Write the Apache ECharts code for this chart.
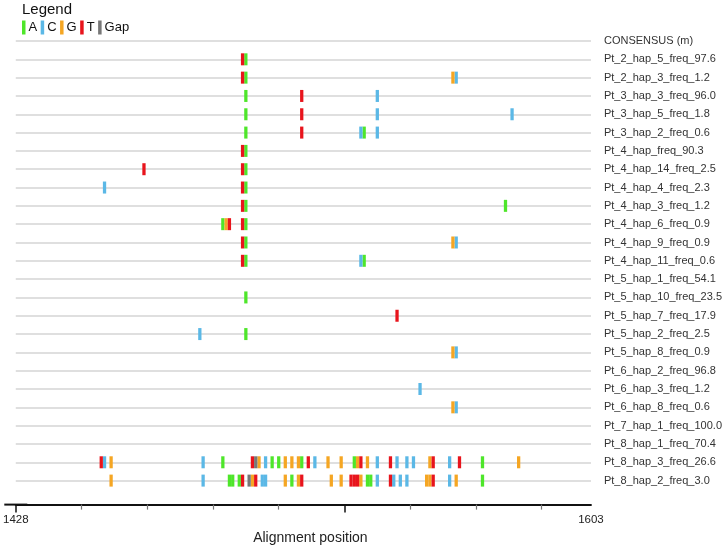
<!DOCTYPE html>
<html>
<head>
<meta charset="utf-8">
<script src="https://cdn.jsdelivr.net/npm/echarts@6/dist/echarts.min.js"></script>
<style>html,body{margin:0;padding:0;background:#fff}#c{width:725px;height:550px}</style>
</head>
<body>
<div id="c"></div>
<script>
// ---------- data ----------
const rowLabels = [
  'CONSENSUS (m)', 'Pt_2_hap_5_freq_97.6', 'Pt_2_hap_3_freq_1.2', 'Pt_3_hap_3_freq_96.0',
  'Pt_3_hap_5_freq_1.8', 'Pt_3_hap_2_freq_0.6', 'Pt_4_hap_freq_90.3', 'Pt_4_hap_14_freq_2.5',
  'Pt_4_hap_4_freq_2.3', 'Pt_4_hap_3_freq_1.2', 'Pt_4_hap_6_freq_0.9', 'Pt_4_hap_9_freq_0.9',
  'Pt_4_hap_11_freq_0.6', 'Pt_5_hap_1_freq_54.1', 'Pt_5_hap_10_freq_23.5', 'Pt_5_hap_7_freq_17.9',
  'Pt_5_hap_2_freq_2.5', 'Pt_5_hap_8_freq_0.9', 'Pt_6_hap_2_freq_96.8', 'Pt_6_hap_3_freq_1.2',
  'Pt_6_hap_8_freq_0.6', 'Pt_7_hap_1_freq_100.0', 'Pt_8_hap_1_freq_70.4', 'Pt_8_hap_3_freq_26.6',
  'Pt_8_hap_2_freq_3.0'
];
const bases = ['A', 'C', 'G', 'T', 'Gap'];
const baseColors = ['#4ee62a', '#5bb8e6', '#f5a623', '#e8141c', '#777777'];

const xMin = 1428, xMax = 1603;
const tickLabelValues = [1428, 1603];
const minorTickValues = [1448, 1468, 1488, 1508, 1548, 1568, 1588];
const majorTickValues = [1428, 1528];

// variants per haplotype: [alignment position, base]
const mConsensus = [];
const mPt2h5 = [[1497, 'T'], [1498, 'A']];
const mPt2h3 = [[1497, 'T'], [1498, 'A'], [1561, 'G'], [1562, 'C']];
const mPt3h3 = [[1498, 'A'], [1515, 'T'], [1538, 'C']];
const mPt3h5 = [[1498, 'A'], [1515, 'T'], [1538, 'C'], [1579, 'C']];
const mPt3h2 = [[1498, 'A'], [1515, 'T'], [1533, 'C'], [1534, 'A'], [1538, 'C']];
const mPt4h = [[1497, 'T'], [1498, 'A']];
const mPt4h14 = [[1467, 'T'], [1497, 'T'], [1498, 'A']];
const mPt4h4 = [[1455, 'C'], [1497, 'T'], [1498, 'A']];
const mPt4h3 = [[1497, 'T'], [1498, 'A'], [1577, 'A']];
const mPt4h6 = [[1491, 'A'], [1492, 'G'], [1493, 'T'], [1497, 'T'], [1498, 'A']];
const mPt4h9 = [[1497, 'T'], [1498, 'A'], [1561, 'G'], [1562, 'C']];
const mPt4h11 = [[1497, 'T'], [1498, 'A'], [1533, 'C'], [1534, 'A']];
const mPt5h1 = [];
const mPt5h10 = [[1498, 'A']];
const mPt5h7 = [[1544, 'T']];
const mPt5h2 = [[1484, 'C'], [1498, 'A']];
const mPt5h8 = [[1561, 'G'], [1562, 'C']];
const mPt6h2 = [];
const mPt6h3 = [[1551, 'C']];
const mPt6h8 = [[1561, 'G'], [1562, 'C']];
const mPt7h1 = [];
const mPt8h1 = [];
const mPt8h3 = [[1454, 'T'], [1455, 'C'], [1457, 'G'], [1485, 'C'], [1491, 'A'],
  [1500, 'T'], [1501, 'Gap'], [1502, 'G'], [1504, 'C'], [1506, 'A'], [1508, 'A'], [1510, 'G'],
  [1512, 'G'], [1514, 'G'], [1515, 'A'], [1517, 'T'], [1519, 'C'], [1523, 'G'], [1527, 'G'],
  [1531, 'A'], [1532, 'G'], [1533, 'T'], [1535, 'G'], [1538, 'C'], [1542, 'T'], [1544, 'C'],
  [1547, 'C'], [1549, 'C'], [1554, 'G'], [1555, 'T'], [1560, 'C'], [1563, 'T'], [1570, 'A'],
  [1581, 'G']];
const mPt8h2 = [[1457, 'G'], [1485, 'C'], [1493, 'A'], [1494, 'A'], [1496, 'A'], [1497, 'T'],
  [1499, 'Gap'], [1500, 'G'], [1501, 'T'], [1503, 'C'], [1504, 'C'], [1510, 'G'], [1512, 'A'],
  [1514, 'G'], [1515, 'T'], [1524, 'G'], [1527, 'G'], [1530, 'T'], [1531, 'T'], [1532, 'T'],
  [1533, 'G'], [1535, 'A'], [1536, 'A'], [1538, 'C'], [1542, 'T'], [1543, 'C'], [1545, 'C'],
  [1547, 'C'], [1553, 'G'], [1554, 'G'], [1555, 'T'], [1560, 'C'], [1562, 'G'], [1570, 'A']];

const rowVariants = [mConsensus, mPt2h5, mPt2h3, mPt3h3, mPt3h5, mPt3h2, mPt4h, mPt4h14, mPt4h4,
  mPt4h3, mPt4h6, mPt4h9, mPt4h11, mPt5h1, mPt5h10, mPt5h7, mPt5h2, mPt5h8, mPt6h2, mPt6h3,
  mPt6h8, mPt7h1, mPt8h1, mPt8h3, mPt8h2];

// ---------- chart ----------
const FONT = '"Liberation Sans", Arial, sans-serif';
const chart = echarts.init(document.getElementById('c'), null, {renderer: 'canvas'});

function renderItem(params, api) {
  const x = api.value(0), y = api.value(1);
  const p0 = api.coord([x - 0.5, y]);
  const p1 = api.coord([x + 0.5, y]);
  const h = 12;
  return {
    type: 'rect',
    shape: {x: p0[0], y: p0[1] - h / 2, width: p1[0] - p0[0], height: h},
    style: {fill: api.visual('color')}
  };
}

const series = bases.map((b, bi) => {
  const data = [];
  rowVariants.forEach((list, ri) => {
    list.forEach(([pos, base]) => { if (base === b) data.push([pos, ri]); });
  });
  return {
    name: b, type: 'custom', renderItem: renderItem, data: data,
    encode: {x: 0, y: 1}, itemStyle: {color: baseColors[bi]}, clip: false, animation: false
  };
});

const option = {
  animation: false,
  backgroundColor: '#fff',
  textStyle: {fontFamily: FONT},
  title: {
    text: 'Legend', left: 22, top: 2, padding: 0,
    textStyle: {fontSize: 15, fontWeight: 'normal', color: '#111', fontFamily: FONT}
  },
  legend: {
    left: 22, top: 20.5, padding: 0, icon: 'rect', itemWidth: 3.5, itemHeight: 14, itemGap: 3.5,
    data: bases,
    textStyle: {fontSize: 13, color: '#111', fontFamily: FONT, padding: [0, 0, 0, -2]}
  },
  grid: {left: 11.5, right: 130, top: 41, bottom: 65},
  xAxis: [{
    type: 'value', min: xMin, max: xMax, position: 'bottom', offset: 24,
    name: 'Alignment position', nameLocation: 'middle', nameGap: 24,
    nameTextStyle: {fontSize: 14, color: '#222', fontFamily: FONT, padding: [0, 0, 0, 14]},
    axisLine: {show: true, onZero: false, symbol: ['rect', 'none'], symbolSize: [2, 23],
      lineStyle: {color: '#111', width: 2}},
    axisTick: {show: true, customValues: minorTickValues, length: 5, lineStyle: {color: '#777', width: 1.2}},
    axisLabel: {customValues: tickLabelValues, fontSize: 11.5, color: '#222', margin: 9.5, fontFamily: FONT,
      formatter: v => String(v)},
    splitLine: {show: false}
  }, {
    type: 'value', min: xMin, max: xMax, position: 'bottom', offset: 24,
    axisLine: {show: false, onZero: false},
    axisTick: {show: true, customValues: majorTickValues, length: 8, lineStyle: {color: '#111', width: 1.5}},
    axisLabel: {show: false},
    splitLine: {show: false}
  }],
  yAxis: {
    type: 'category', data: rowLabels, inverse: true, boundaryGap: false, position: 'right',
    axisLine: {show: false}, axisTick: {show: false},
    axisLabel: {fontSize: 11, color: '#333', margin: 13, fontFamily: FONT},
    splitLine: {show: true, lineStyle: {color: '#d4d4d4', width: 1.5}}
  },
  series: series
};
chart.setOption(option);
</script>
</body>
</html>
